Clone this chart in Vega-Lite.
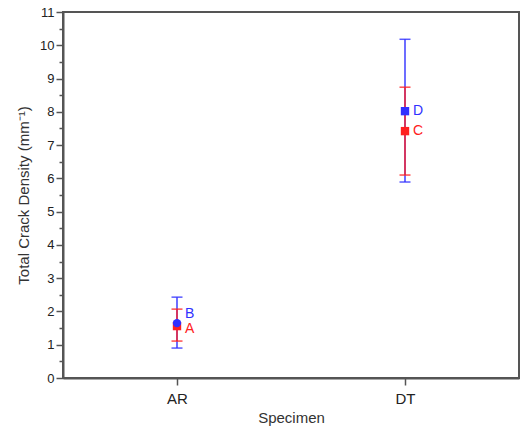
{
  "$schema": "https://vega.github.io/schema/vega-lite/v6.json",
  "width": 456,
  "height": 366,
  "autosize": {"type": "none"},
  "padding": {"left": 63, "top": 12, "right": 1, "bottom": 56},
  "background": "white",
  "config": {
    "font": "Liberation Sans",
    "view": {"stroke": "#555555", "strokeWidth": 2},
    "axis": {"grid": false, "domainColor": "#555555", "domainWidth": 2, "tickColor": "#555555", "tickWidth": 1.5, "labelColor": "#222222", "titleColor": "#333333", "titleFontWeight": "normal", "labelOverlap": false}
  },
  "data": {
    "values": [
      {"specimen": "AR", "series": "red", "label": "A", "shape": "square", "value": 1.56, "lo": 1.11, "hi": 2.07},
      {"specimen": "AR", "series": "blue", "label": "B", "shape": "circle", "value": 1.65, "lo": 0.9, "hi": 2.43},
      {"specimen": "DT", "series": "red", "label": "C", "shape": "square", "value": 7.42, "lo": 6.1, "hi": 8.74},
      {"specimen": "DT", "series": "blue", "label": "D", "shape": "square", "value": 8.02, "lo": 5.89, "hi": 10.18}
    ]
  },
  "encoding": {
    "x": {"field": "specimen", "type": "nominal", "scale": {"type": "point", "padding": 0.5}, "sort": ["AR", "DT"],
      "axis": {"title": "Specimen", "labelAngle": 0, "labelFontSize": 15, "titleFontSize": 15, "tickSize": 7, "labelPadding": 6, "titlePadding": 4}},
    "color": {"field": "series", "type": "nominal", "scale": {"domain": ["red", "blue"], "range": ["#ff2020", "#3030ff"]}, "legend": null}
  },
  "layer": [
    {
      "transform": [{"filter": "datum.series == 'blue'"}],
      "mark": {"type": "rule", "strokeWidth": 1.4},
      "encoding": {
        "y": {"field": "lo", "type": "quantitative", "scale": {"domain": [0, 11], "nice": false},
          "axis": {"title": "Total Crack Density (mm⁻¹)", "values": [0,0.5,1,1.5,2,2.5,3,3.5,4,4.5,5,5.5,6,6.5,7,7.5,8,8.5,9,9.5,10,10.5,11], "labelExpr": "datum.value % 1 === 0 ? format(datum.value, 'd') : ''", "tickSize": {"condition": {"test": "datum.value % 1 !== 0", "value": 4}, "value": 7}, "labelFontSize": 13, "titleFontSize": 15, "labelPadding": 2, "titlePadding": 8, "labelOverlap": false}},
        "y2": {"field": "hi"}
      }
    },
    {
      "transform": [{"filter": "datum.series == 'red'"}],
      "mark": {"type": "rule", "strokeWidth": 1.4},
      "encoding": {
        "y": {"field": "lo", "type": "quantitative",
          "axis": {"title": "Total Crack Density (mm⁻¹)", "values": [0,0.5,1,1.5,2,2.5,3,3.5,4,4.5,5,5.5,6,6.5,7,7.5,8,8.5,9,9.5,10,10.5,11], "labelExpr": "datum.value % 1 === 0 ? format(datum.value, 'd') : ''", "tickSize": {"condition": {"test": "datum.value % 1 !== 0", "value": 4}, "value": 7}, "labelFontSize": 13, "titleFontSize": 15, "labelPadding": 2, "titlePadding": 8, "labelOverlap": false}},
        "y2": {"field": "hi"}
      }
    },
    {
      "mark": {"type": "tick", "thickness": 1.5, "size": 11, "opacity": 0.8},
      "encoding": {"y": {"field": "lo", "type": "quantitative",
          "axis": {"title": "Total Crack Density (mm⁻¹)", "values": [0,0.5,1,1.5,2,2.5,3,3.5,4,4.5,5,5.5,6,6.5,7,7.5,8,8.5,9,9.5,10,10.5,11], "labelExpr": "datum.value % 1 === 0 ? format(datum.value, 'd') : ''", "tickSize": {"condition": {"test": "datum.value % 1 !== 0", "value": 4}, "value": 7}, "labelFontSize": 13, "titleFontSize": 15, "labelPadding": 2, "titlePadding": 8, "labelOverlap": false}}}
    },
    {
      "mark": {"type": "tick", "thickness": 1.5, "size": 11, "opacity": 0.8},
      "encoding": {"y": {"field": "hi", "type": "quantitative",
          "axis": {"title": "Total Crack Density (mm⁻¹)", "values": [0,0.5,1,1.5,2,2.5,3,3.5,4,4.5,5,5.5,6,6.5,7,7.5,8,8.5,9,9.5,10,10.5,11], "labelExpr": "datum.value % 1 === 0 ? format(datum.value, 'd') : ''", "tickSize": {"condition": {"test": "datum.value % 1 !== 0", "value": 4}, "value": 7}, "labelFontSize": 13, "titleFontSize": 15, "labelPadding": 2, "titlePadding": 8, "labelOverlap": false}}}
    },
    {
      "mark": {"type": "point", "filled": true, "size": 70, "opacity": 1},
      "encoding": {
        "y": {"field": "value", "type": "quantitative",
          "axis": {"title": "Total Crack Density (mm⁻¹)", "values": [0,0.5,1,1.5,2,2.5,3,3.5,4,4.5,5,5.5,6,6.5,7,7.5,8,8.5,9,9.5,10,10.5,11], "labelExpr": "datum.value % 1 === 0 ? format(datum.value, 'd') : ''", "tickSize": {"condition": {"test": "datum.value % 1 !== 0", "value": 4}, "value": 7}, "labelFontSize": 13, "titleFontSize": 15, "labelPadding": 2, "titlePadding": 8, "labelOverlap": false}},
        "shape": {"field": "shape", "type": "nominal", "scale": {"domain": ["circle", "square"], "range": ["circle", "square"]}, "legend": null},
        "order": {"field": "series", "sort": "descending"}
      }
    },
    {
      "transform": [{"filter": "datum.specimen == 'DT'"}],
      "mark": {"type": "text", "align": "left", "dx": 8, "fontSize": 14},
      "encoding": {"y": {"field": "value", "type": "quantitative",
          "axis": {"title": "Total Crack Density (mm⁻¹)", "values": [0,0.5,1,1.5,2,2.5,3,3.5,4,4.5,5,5.5,6,6.5,7,7.5,8,8.5,9,9.5,10,10.5,11], "labelExpr": "datum.value % 1 === 0 ? format(datum.value, 'd') : ''", "tickSize": {"condition": {"test": "datum.value % 1 !== 0", "value": 4}, "value": 7}, "labelFontSize": 13, "titleFontSize": 15, "labelPadding": 2, "titlePadding": 8, "labelOverlap": false}}, "text": {"field": "label"}}
    },
    {
      "transform": [{"filter": "datum.label == 'B'"}],
      "mark": {"type": "text", "align": "left", "dx": 8, "dy": -9, "fontSize": 14},
      "encoding": {"y": {"field": "value", "type": "quantitative",
          "axis": {"title": "Total Crack Density (mm⁻¹)", "values": [0,0.5,1,1.5,2,2.5,3,3.5,4,4.5,5,5.5,6,6.5,7,7.5,8,8.5,9,9.5,10,10.5,11], "labelExpr": "datum.value % 1 === 0 ? format(datum.value, 'd') : ''", "tickSize": {"condition": {"test": "datum.value % 1 !== 0", "value": 4}, "value": 7}, "labelFontSize": 13, "titleFontSize": 15, "labelPadding": 2, "titlePadding": 8, "labelOverlap": false}}, "text": {"field": "label"}}
    },
    {
      "transform": [{"filter": "datum.label == 'A'"}],
      "mark": {"type": "text", "align": "left", "dx": 8, "dy": 3, "fontSize": 14},
      "encoding": {"y": {"field": "value", "type": "quantitative",
          "axis": {"title": "Total Crack Density (mm⁻¹)", "values": [0,0.5,1,1.5,2,2.5,3,3.5,4,4.5,5,5.5,6,6.5,7,7.5,8,8.5,9,9.5,10,10.5,11], "labelExpr": "datum.value % 1 === 0 ? format(datum.value, 'd') : ''", "tickSize": {"condition": {"test": "datum.value % 1 !== 0", "value": 4}, "value": 7}, "labelFontSize": 13, "titleFontSize": 15, "labelPadding": 2, "titlePadding": 8, "labelOverlap": false}}, "text": {"field": "label"}}
    }
  ]
}
